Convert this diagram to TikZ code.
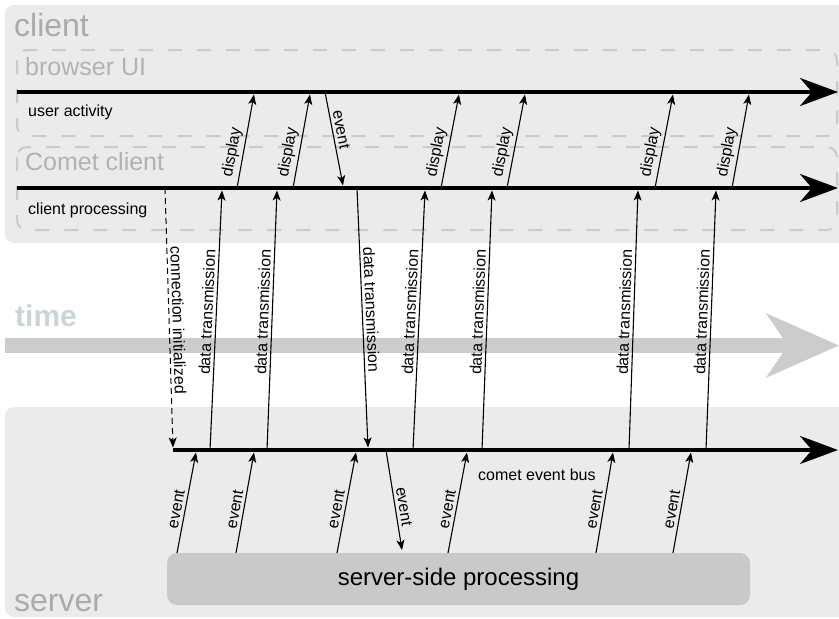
\documentclass[tikz,border=0pt]{standalone}
\usepackage{fontspec}
\setmainfont{Liberation Sans}
\usetikzlibrary{arrows.meta}
\definecolor{bgg}{HTML}{EBEBEB}
\definecolor{dashc}{HTML}{CBCBCB}
\definecolor{titc}{HTML}{ABABAB}
\definecolor{subc}{HTML}{B2B2B2}
\definecolor{timec}{HTML}{CCCCCC}
\definecolor{timetxt}{HTML}{CBD4D9}
\definecolor{procc}{HTML}{C9C9C9}
\begin{document}
\begin{tikzpicture}[x=1pt,y=-1pt,
  arr/.style={line width=1.1pt,-{Stealth[length=10pt,width=8pt,inset=2.5pt]}},
  lbl/.style={font=\fontsize{16}{16}\selectfont,inner sep=3pt},
  tline/.style={line width=4.5pt,-{Stealth[length=38pt,width=28pt,inset=12pt]}},
  dbox/.style={draw=dashc,line width=2pt,dash pattern=on 14pt off 15pt,rounded corners=10pt},
  bigtitle/.style={font=\fontsize{32}{32}\selectfont,text=titc,inner sep=0pt,anchor=base west},
  subtitle/.style={font=\fontsize{25}{25}\selectfont,text=subc,inner sep=0pt,anchor=base west},
  small/.style={font=\fontsize{16}{16}\selectfont,inner sep=0pt,anchor=base west}]
\useasboundingbox (0,0) rectangle (839,619);
% backgrounds
\begin{scope}
\clip (0,0) rectangle (839,619);
\fill[bgg,rounded corners=9pt] (5,5) rectangle (860,243);
\fill[bgg,rounded corners=9pt] (5,407) rectangle (860,617);
\end{scope}
% time arrow
\coordinate (t0) at (5,345.5);
\coordinate (t1) at (839,345.5);
\draw[timec,line width=15pt,-{Stealth[length=72pt,width=63pt,inset=21pt]}] (t0) -- (t1);
\node[font=\bfseries\fontsize{30}{30}\selectfont,text=timetxt,inner sep=0pt,anchor=base west] (timelbl) at (15,326) {time};
% dashed boxes
\draw[dbox] (17,50) rectangle (837,136);
\draw[dbox] (17,147) rectangle (837,230);
% titles
\node[bigtitle] (clientlbl) at (14,36) {client};
\node[bigtitle] (serverlbl) at (14,611) {server};
\node[subtitle] (browserlbl) at (25,75) {browser UI};
\node[subtitle] (cometlbl) at (25,170) {Comet client};
\node[small] (ualbl) at (28,116) {user activity};
\node[small] (cplbl) at (28,214) {client processing};
\node[small] (eblbl) at (478,480) {comet event bus};
% server-side processing box
\node[fill=procc,rounded corners=10pt,minimum width=583pt,minimum height=52pt,
      font=\fontsize{24}{24}\selectfont,inner sep=0pt] (proc) at (458.5,579) {server-side processing};
% timelines
\coordinate (ua0) at (17,92);  \coordinate (ua1) at (838,92);
\coordinate (cp0) at (17,188); \coordinate (cp1) at (838,188);
\coordinate (eb0) at (173,450); \coordinate (eb1) at (838,450);
\draw[tline] (ua0) -- (ua1);
\draw[tline] (cp0) -- (cp1);
\draw[tline] (eb0) -- (eb1);
% display arrows
\foreach \n/\xa/\xb in {1/237/254,2/293/310,3/441/459,4/507/525,5/655/673,6/732/749}{
  \coordinate (disp\n a) at (\xa,188);
  \coordinate (disp\n b) at (\xb,94.5);
  \draw[arr] (disp\n a) -- node[lbl,sloped,above,pos=0.36] {display} (disp\n b);
}
% event from browser UI to client
\coordinate (ev0a) at (325,92);
\coordinate (ev0b) at (343,185.5);
\draw[arr] (ev0a) -- node[lbl,sloped,above,pos=0.42] {event} (ev0b);
% data transmission up
\foreach \n/\xa/\xb in {1/210/222,2/267/277,3/413/425,4/482/492,5/629/638,6/706/716}{
  \coordinate (dt\n a) at (\xa,450);
  \coordinate (dt\n b) at (\xb,190.5);
  \draw[arr] (dt\n a) -- node[lbl,sloped,above,pos=0.53] {data transmission} (dt\n b);
}
% data transmission down
\coordinate (dd0a) at (357,188);
\coordinate (dd0b) at (368,447.5);
\draw[arr] (dd0a) -- node[lbl,sloped,above,pos=0.47] {data transmission} (dd0b);
% connection initialized
\coordinate (ci0a) at (165,188);
\coordinate (ci0b) at (173,447.5);
\draw[arr,line width=1pt,dash pattern=on 6pt off 4pt] (ci0a) -- node[lbl,sloped,above,pos=0.51] {connection initialized} (ci0b);
% server events up
\foreach \n/\xa/\xb in {1/177/196,2/236/254,3/337/356,4/448/467,5/596/613,6/673/691}{
  \coordinate (se\n a) at (\xa,553);
  \coordinate (se\n b) at (\xb,452.5);
  \draw[arr] (se\n a) -- node[lbl,sloped,above,pos=0.42] {event} (se\n b);
}
% server event down
\coordinate (sd0a) at (386,450);
\coordinate (sd0b) at (402,550);
\draw[arr] (sd0a) -- node[lbl,sloped,above,pos=0.58] {event} (sd0b);
\end{tikzpicture}
\end{document}
